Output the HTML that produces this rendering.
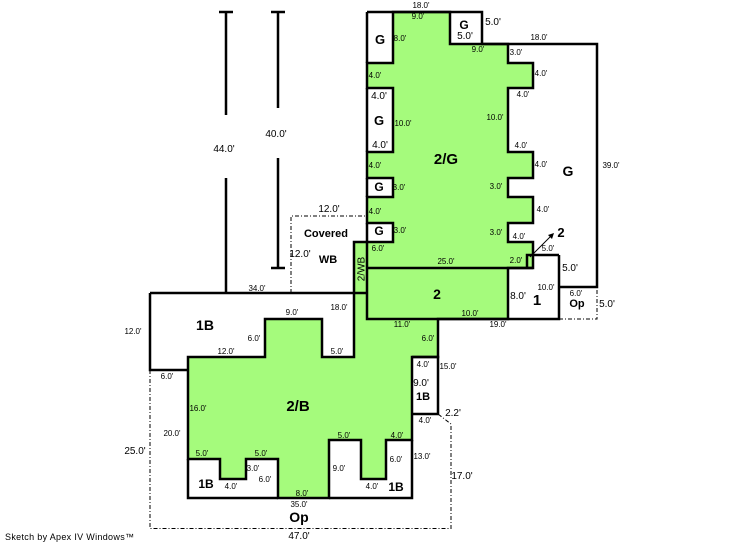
<!DOCTYPE html>
<html><head><meta charset="utf-8"><style>
html,body{margin:0;padding:0;background:#fff;width:746px;height:547px;overflow:hidden}
svg{display:block}
text{font-family:"Liberation Sans",sans-serif;fill:#000;text-anchor:middle}
.s{font-size:8px}
.m{font-size:10px}
.b{font-weight:bold}
</style></head><body>
<svg width="746" height="547" viewBox="0 0 746 547" xmlns="http://www.w3.org/2000/svg">
<rect width="746" height="547" fill="#fff"/>
<polygon fill="#a5fb7c" stroke="#000" stroke-width="2.5" stroke-linejoin="miter" points="393,12 450,12 450,44 508,44 508,63 533,63 533,88 508,88 508,152 533,152 533,178 508,178 508,197 533,197 533,223 508,223 508,242 533,242 533,268 508,268 508,319 438,319 438,357 412,357 412,440 386,440 386,479 361,479 361,440 329,440 329,498 278,498 278,459 246,459 246,479 220,479 220,459 188,459 188,357 265,357 265,319 322,319 322,357 354,357 354,242 393,242 393,223 367,223 367,197 393,197 393,178 367,178 367,152 393,152 393,88 367,88 367,63 393,63"/>
<g fill="none" stroke="#000" stroke-width="2.5">
<path d="M367,12H450M450,12H482V44H597V287H559M559,255V319H367V242M367,268H533M527,268V255H559"/>
<path d="M367,63V12M367,88V152M367,178V197M367,223V242"/>
<path d="M150,293H367M150,293V370H188M188,459V498H278M329,498H412V440M412,357H438V414H412"/>
<path d="M226,12V115M226,178V293M219,12H233"/>
<path d="M278,12V108M278,158V268M271,12H285M271,268H285"/>
</g>
<g fill="none" stroke="#000" stroke-width="1" stroke-dasharray="4,2,1,2">
<path d="M291,293V216H367"/>
<path d="M559,319H597V287"/>
<path d="M150,370V528.500H451V424L438,414"/>
</g>
<line x1="530" y1="257" x2="552" y2="235" stroke="#000" stroke-width="1"/>
<polygon points="554,233 548,235 552,239" fill="#000"/>

<text class="s" x="421" y="8">18.0'</text>
<text class="s" x="418" y="19">9.0'</text>
<text class="b" font-size="13" x="380" y="44">G</text>
<text class="s" x="400" y="41">8.0'</text>
<text class="b" font-size="12" x="464" y="29">G</text>
<text class="m" x="465" y="39">5.0'</text>
<text class="m" x="493" y="25">5.0'</text>
<text class="s" x="539" y="40">18.0'</text>
<text class="s" x="478" y="52">9.0'</text>
<text class="s" x="516" y="55">3.0'</text>
<text class="s" x="541" y="76">4.0'</text>
<text class="s" x="375" y="78">4.0'</text>
<text class="m" x="379" y="99">4.0'</text>
<text class="b" font-size="13" x="379" y="125">G</text>
<text class="s" x="403" y="126">10.0'</text>
<text class="s" x="495" y="120">10.0'</text>
<text class="s" x="523" y="97">4.0'</text>
<text class="m" x="380" y="148">4.0'</text>
<text class="s" x="521" y="148">4.0'</text>
<text class="s" x="375" y="168">4.0'</text>
<text class="s" x="541" y="167">4.0'</text>
<text class="b" font-size="15" x="446" y="164">2/G</text>
<text class="b" font-size="14" x="568" y="176">G</text>
<text class="s" x="611" y="168">39.0'</text>
<text class="b" font-size="12" x="379" y="191">G</text>
<text class="s" x="399" y="190">3.0'</text>
<text class="s" x="496" y="189">3.0'</text>
<text class="s" x="375" y="214">4.0'</text>
<text class="s" x="543" y="212">4.0'</text>
<text class="m" x="329" y="212">12.0'</text>
<text class="b" font-size="11" x="326" y="237">Covered</text>
<text class="b" font-size="12" x="379" y="235">G</text>
<text class="s" x="400" y="233">3.0'</text>
<text class="s" x="496" y="235">3.0'</text>
<text class="s" x="519" y="239">4.0'</text>
<text class="b" font-size="13" x="561" y="237">2</text>
<text class="s" x="548" y="251">5.0'</text>
<text class="m" x="300" y="257">12.0'</text>
<text class="b" font-size="11" x="328" y="263">WB</text>
<text class="s" x="378" y="251">6.0'</text>
<text class="m" transform="translate(364.500,269) rotate(-90)" x="0" y="0">2/WB</text>
<text class="s" x="446" y="264">25.0'</text>
<text class="s" x="516" y="263">2.0'</text>
<text class="m" x="570" y="271">5.0'</text>
<text class="s" x="546" y="290">10.0'</text>
<text class="s" x="576" y="296">6.0'</text>
<text class="m" x="518" y="299">8.0'</text>
<text class="b" font-size="14" x="437" y="299">2</text>
<text class="b" font-size="15" x="537" y="305">1</text>
<text class="b" font-size="11" x="577" y="307">Op</text>
<text class="m" x="607" y="307">5.0'</text>
<text class="s" x="470" y="316">10.0'</text>
<text class="s" x="498" y="327">19.0'</text>
<text class="s" x="402" y="327">11.0'</text>
<text class="s" x="257" y="291">34.0'</text>
<text class="s" x="339" y="310">18.0'</text>
<text class="s" x="292" y="315">9.0'</text>
<text class="b" font-size="14" x="205" y="330">1B</text>
<text class="s" x="254" y="341">6.0'</text>
<text class="s" x="226" y="354">12.0'</text>
<text class="s" x="337" y="354">5.0'</text>
<text class="s" x="167" y="379">6.0'</text>
<text class="s" x="133" y="334">12.0'</text>
<text class="s" x="198" y="411">16.0'</text>
<text class="b" font-size="15" x="298" y="411">2/B</text>
<text class="s" x="428" y="341">6.0'</text>
<text class="s" x="423" y="367">4.0'</text>
<text class="s" x="448" y="369">15.0'</text>
<text class="m" x="421" y="386">9.0'</text>
<text class="b" font-size="11" x="423" y="400">1B</text>
<text class="m" x="453" y="416">2.2'</text>
<text class="s" x="425" y="423">4.0'</text>
<text class="s" x="172" y="436">20.0'</text>
<text class="m" x="135" y="454">25.0'</text>
<text class="s" x="202" y="456">5.0'</text>
<text class="s" x="261" y="456">5.0'</text>
<text class="s" x="344" y="438">5.0'</text>
<text class="s" x="397" y="438">4.0'</text>
<text class="s" x="396" y="462">6.0'</text>
<text class="s" x="422" y="459">13.0'</text>
<text class="s" x="253" y="471">3.0'</text>
<text class="s" x="265" y="482">6.0'</text>
<text class="s" x="339" y="471">9.0'</text>
<text class="m" x="462" y="479">17.0'</text>
<text class="b" font-size="12" x="206" y="488">1B</text>
<text class="s" x="231" y="489">4.0'</text>
<text class="s" x="372" y="489">4.0'</text>
<text class="b" font-size="12" x="396" y="491">1B</text>
<text class="s" x="302" y="496">8.0'</text>
<text class="s" x="299" y="507">35.0'</text>
<text class="b" font-size="14" x="299" y="522">Op</text>
<text class="m" x="299" y="539">47.0'</text>
<text class="m" x="276" y="137">40.0'</text>
<text class="m" x="224" y="152">44.0'</text>
<text font-size="9" x="5" y="540" style="text-anchor:start" textLength="129" lengthAdjust="spacing">Sketch by Apex IV Windows™</text>
</svg>
</body></html>
